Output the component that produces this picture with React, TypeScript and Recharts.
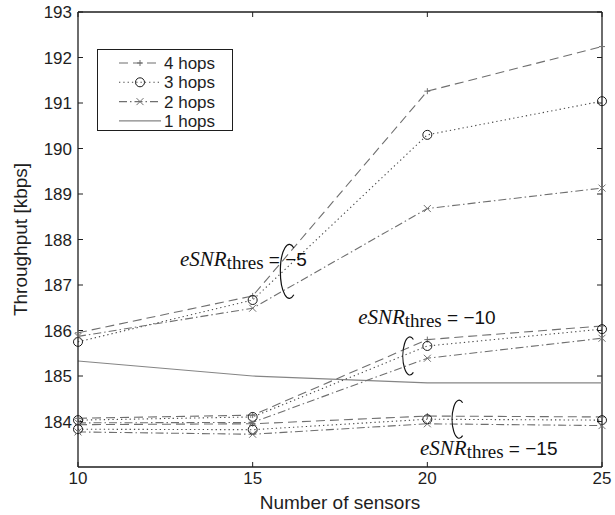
import React from "react";
import { LineChart, Line, XAxis, YAxis, Legend, ReferenceDot, ReferenceLine } from "recharts";

// number of sensors on the x axis
const sensors = [10, 15, 20, 25];
const yTicks = [184, 185, 186, 187, 188, 189, 190, 191, 192, 193];

// eSNR_thres = -5
const hops4Thres5 = [185.95, 186.76, 191.26, 192.24];
const hops3Thres5 = [185.75, 186.67, 190.3, 191.04];
const hops2Thres5 = [185.87, 186.49, 188.68, 189.13];
// eSNR_thres = -10
const hops4Thres10 = [184.07, 184.14, 185.8, 186.1];
const hops3Thres10 = [184.03, 184.1, 185.66, 186.03];
const hops2Thres10 = [183.97, 183.98, 185.39, 185.83];
// eSNR_thres = -15
const hops4Thres15 = [183.93, 183.95, 184.12, 184.1];
const hops3Thres15 = [183.83, 183.82, 184.05, 184.03];
const hops2Thres15 = [183.77, 183.72, 183.95, 183.91];
// single hop
const hops1 = [185.33, 185.0, 184.85, 184.85];

// annotation anchors (data coordinates)
const thresLabels = [
  { text: " = \u22125", x: 12.92, y: 187.42 },
  { text: " = \u221210", x: 18.02, y: 186.14 },
  { text: " = \u221215", x: 19.79, y: 183.26 },
];
const brackets = [
  { x: 16.05, y: 187.3 },
  { x: 19.5, y: 185.44 },
  { x: 20.91, y: 184.05 },
];

const rows = sensors.map((n, i) => ({
  n,
  h4a: hops4Thres5[i],
  h3a: hops3Thres5[i],
  h2a: hops2Thres5[i],
  h4b: hops4Thres10[i],
  h3b: hops3Thres10[i],
  h2b: hops2Thres10[i],
  h4c: hops4Thres15[i],
  h3c: hops3Thres15[i],
  h2c: hops2Thres15[i],
  h1: hops1[i],
}));

const X_MIN = 10;
const X_MAX = 25;
const Y_MIN = 183;
const Y_MAX = 193;
// inward tick length (~5px) in data units
const TICK_X = 0.143;
const TICK_Y = 0.11;

const AXIS = "#1e1e1e";
const GRAY = "#6f6f6f";
const DARK = "#4a4a4a";
const SOLID = "#858585";
const SANS = "'Liberation Sans', Arial, sans-serif";
const SERIF = "'Liberation Serif', 'Times New Roman', serif";

const DASH = "9 5";
const DOT = "1.3 3";
const DASHDOT = "8 3 1.5 3";

const tickStyle = { fontSize: 17, fill: AXIS, fontFamily: SANS };

const plusDot = (p: any) => (
  <path
    key={`p-${p.dataKey}-${p.index}`}
    d={`M${p.cx - 3},${p.cy}h6M${p.cx},${p.cy - 3}v6`}
    stroke={GRAY}
    strokeWidth={1}
    fill="none"
  />
);
const circleDot = (p: any) => (
  <circle
    key={`c-${p.dataKey}-${p.index}`}
    cx={p.cx}
    cy={p.cy}
    r={4.5}
    stroke="#1a1a1a"
    strokeWidth={1}
    fill="none"
  />
);
const crossDot = (p: any) => (
  <path
    key={`x-${p.dataKey}-${p.index}`}
    d={`M${p.cx - 3.5},${p.cy - 3.5}l7,7M${p.cx - 3.5},${p.cy + 3.5}l7,-7`}
    stroke={GRAY}
    strokeWidth={1}
    fill="none"
  />
);

const bracketSize = [
  { rx: 9, ry: 27 },
  { rx: 7, ry: 19 },
  { rx: 7, ry: 19 },
];

function bracketShape(i: number) {
  return (p: any) => {
    const { rx, ry } = bracketSize[i];
    const a = (60 * Math.PI) / 180;
    const x1 = p.cx + rx * Math.cos(a);
    const y1 = p.cy - ry * Math.sin(a);
    const y2 = p.cy + ry * Math.sin(a);
    return (
      <path
        d={`M${x1},${y1} A${rx},${ry} 0 1 0 ${x1},${y2}`}
        stroke="#111"
        strokeWidth={1.2}
        fill="none"
      />
    );
  };
}

function thresText(text: string) {
  return (p: any) => (
    <text x={p.cx} y={p.cy} fill="#111">
      <tspan fontFamily={SERIF} fontStyle="italic" fontSize={21}>
        eSNR
      </tspan>
      <tspan fontFamily={SERIF} fontSize={19} dy={3}>
        thres
      </tspan>
      <tspan fontFamily={SANS} fontSize={19} dy={-3}>
        {text}
      </tspan>
    </text>
  );
}

function YLabel(props: any) {
  const vb = props.viewBox || { x: 0, y: 12, width: 78, height: 455 };
  const cx = vb.x + 27;
  const cy = vb.y + vb.height / 2;
  return (
    <text
      x={cx}
      y={cy}
      transform={`rotate(-90, ${cx}, ${cy})`}
      textAnchor="middle"
      fontFamily={SANS}
      fontSize={19}
      fill={AXIS}
    >
      Throughput [kbps]
    </text>
  );
}

function XLabel(props: any) {
  const vb = props.viewBox || { x: 78, y: 467, width: 524, height: 48 };
  return (
    <text
      x={vb.x + vb.width / 2}
      y={vb.y + 42}
      textAnchor="middle"
      fontFamily={SANS}
      fontSize={19}
      fill={AXIS}
    >
      Number of sensors
    </text>
  );
}

const legendItems = [
  { name: "4 hops", dash: DASH, color: GRAY, marker: "plus" },
  { name: "3 hops", dash: DOT, color: DARK, marker: "circle" },
  { name: "2 hops", dash: DASHDOT, color: GRAY, marker: "cross" },
  { name: "1 hops", dash: undefined, color: SOLID, marker: "none" },
];

function LegendBox() {
  return (
    <div
      style={{
        border: `1px solid ${AXIS}`,
        background: "#fff",
        width: 134,
        height: 80,
      }}
    >
      <svg width={134} height={80}>
        {legendItems.map((it, i) => {
          const y = 13 + i * 19.3;
          const mx = 42;
          return (
            <g key={it.name}>
              <line
                x1={21}
                x2={63}
                y1={y}
                y2={y}
                stroke={it.color}
                strokeDasharray={it.dash}
                strokeWidth={1.1}
              />
              {it.marker === "plus" && (
                <path d={`M${mx - 3},${y}h6M${mx},${y - 3}v6`} stroke={GRAY} />
              )}
              {it.marker === "circle" && (
                <circle cx={mx} cy={y} r={4.5} stroke="#1a1a1a" fill="none" />
              )}
              {it.marker === "cross" && (
                <path
                  d={`M${mx - 3.5},${y - 3.5}l7,7M${mx - 3.5},${y + 3.5}l7,-7`}
                  stroke={GRAY}
                />
              )}
              <text
                x={66}
                y={y + 6}
                fontFamily={SANS}
                fontSize={17}
                fill={AXIS}
              >
                {it.name}
              </text>
            </g>
          );
        })}
      </svg>
    </div>
  );
}

const series = [
  { key: "h4a", dash: DASH, color: GRAY, dot: plusDot },
  { key: "h3a", dash: DOT, color: DARK, dot: circleDot },
  { key: "h2a", dash: DASHDOT, color: GRAY, dot: crossDot },
  { key: "h4b", dash: DASH, color: GRAY, dot: plusDot },
  { key: "h3b", dash: DOT, color: DARK, dot: circleDot },
  { key: "h2b", dash: DASHDOT, color: GRAY, dot: crossDot },
  { key: "h4c", dash: DASH, color: GRAY, dot: plusDot },
  { key: "h3c", dash: DOT, color: DARK, dot: circleDot },
  { key: "h2c", dash: DASHDOT, color: GRAY, dot: crossDot },
];

export default function App() {
  return (
    <div style={{ position: "absolute", left: 0, top: 0 }}>
      <LineChart
        width={615}
        height={515}
        data={rows}
        margin={{ top: 12, right: 13, bottom: 0, left: 0 }}
      >
        <XAxis
          dataKey="n"
          type="number"
          domain={[X_MIN, X_MAX]}
          ticks={sensors}
          interval={0}
          height={48}
          tickLine={false}
          tickSize={0}
          tickMargin={5}
          stroke={AXIS}
          strokeWidth={1.3}
          tick={tickStyle}
          label={<XLabel />}
        />
        <YAxis
          type="number"
          domain={[Y_MIN, Y_MAX]}
          ticks={yTicks}
          interval={0}
          width={78}
          tickLine={false}
          tickSize={0}
          tickMargin={6}
          stroke={AXIS}
          strokeWidth={1.3}
          tick={tickStyle}
          label={<YLabel />}
        />
        {/* box: top and right edges */}
        <ReferenceLine y={Y_MAX} stroke={AXIS} strokeWidth={1.3} />
        <ReferenceLine x={X_MAX} stroke={AXIS} strokeWidth={1.3} />
        {/* inward ticks on all four sides */}
        {sensors.map((s) => (
          <ReferenceLine
            key={`bt-${s}`}
            segment={[{ x: s, y: Y_MIN }, { x: s, y: Y_MIN + TICK_Y }]}
            stroke={AXIS}
          />
        ))}
        {sensors.map((s) => (
          <ReferenceLine
            key={`tt-${s}`}
            segment={[{ x: s, y: Y_MAX }, { x: s, y: Y_MAX - TICK_Y }]}
            stroke={AXIS}
          />
        ))}
        {yTicks.map((t) => (
          <ReferenceLine
            key={`lt-${t}`}
            segment={[{ x: X_MIN, y: t }, { x: X_MIN + TICK_X, y: t }]}
            stroke={AXIS}
          />
        ))}
        {yTicks.map((t) => (
          <ReferenceLine
            key={`rt-${t}`}
            segment={[{ x: X_MAX, y: t }, { x: X_MAX - TICK_X, y: t }]}
            stroke={AXIS}
          />
        ))}
        <Legend
          layout="horizontal"
          verticalAlign="middle"
          align="center"
          wrapperStyle={{ left: 97, top: 49, width: 136, height: 82 }}
          content={() => <LegendBox />}
        />
        <Line
          dataKey="h1"
          stroke={SOLID}
          strokeWidth={1.2}
          dot={false}
          activeDot={false}
          isAnimationActive={false}
        />
        {series.map((s) => (
          <Line
            key={s.key}
            dataKey={s.key}
            stroke={s.color}
            strokeWidth={1.1}
            strokeDasharray={s.dash}
            dot={s.dot}
            activeDot={false}
            isAnimationActive={false}
          />
        ))}
        {brackets.map((b, i) => (
          <ReferenceDot
            key={`br-${i}`}
            x={b.x}
            y={b.y}
            r={1}
            shape={bracketShape(i)}
          />
        ))}
        {thresLabels.map((t, i) => (
          <ReferenceDot
            key={`tl-${i}`}
            x={t.x}
            y={t.y}
            r={1}
            shape={thresText(t.text)}
          />
        ))}
      </LineChart>
    </div>
  );
}
